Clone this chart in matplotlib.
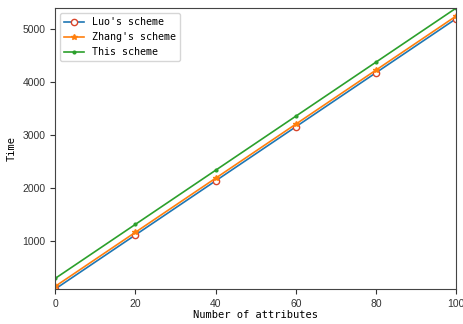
import matplotlib
matplotlib.use('Agg')
import matplotlib.pyplot as plt

# values
attrs = [0, 20, 40, 60, 80, 100]
luo = [100, 1120, 2140, 3160, 4180, 5200]
zhang = [150, 1170, 2190, 3210, 4230, 5250]
this = [300, 1320, 2340, 3360, 4380, 5400]

mono = 'DejaVu Sans Mono'

fig = plt.figure(figsize=(4.64, 3.24), dpi=100)
ax = fig.add_axes([0.119, 0.108, 0.864, 0.867])

ax.plot(attrs, luo, color='C0', lw=1.2, marker='o', markersize=4.5,
        markerfacecolor='white', markeredgecolor='#d9452b', label="Luo's scheme")
ax.plot(attrs, zhang, color='C1', lw=1.2, marker='*', markersize=4, label="Zhang's scheme")
ax.plot(attrs, this, color='C2', lw=1.2, marker='.', markersize=4, label="This scheme")

ax.set_xlim(0, 100)
ax.set_ylim(100, 5400)
ax.set_xticks(attrs)
ax.set_yticks([1000, 2000, 3000, 4000, 5000])
ax.tick_params(labelsize=7.5, colors='#333333')
for t in ax.get_xticklabels() + ax.get_yticklabels():
    t.set_fontfamily('Liberation Sans')
for s in ax.spines.values():
    s.set_color('#444444')

ax.set_xlabel('Number of attributes', family=mono, fontsize=7.5, labelpad=1)
ax.set_ylabel('Time', family=mono, fontsize=7.5)
ax.legend(loc='upper left', prop={'family': mono, 'size': 7.2})

fig.savefig('out.png', dpi=100)
